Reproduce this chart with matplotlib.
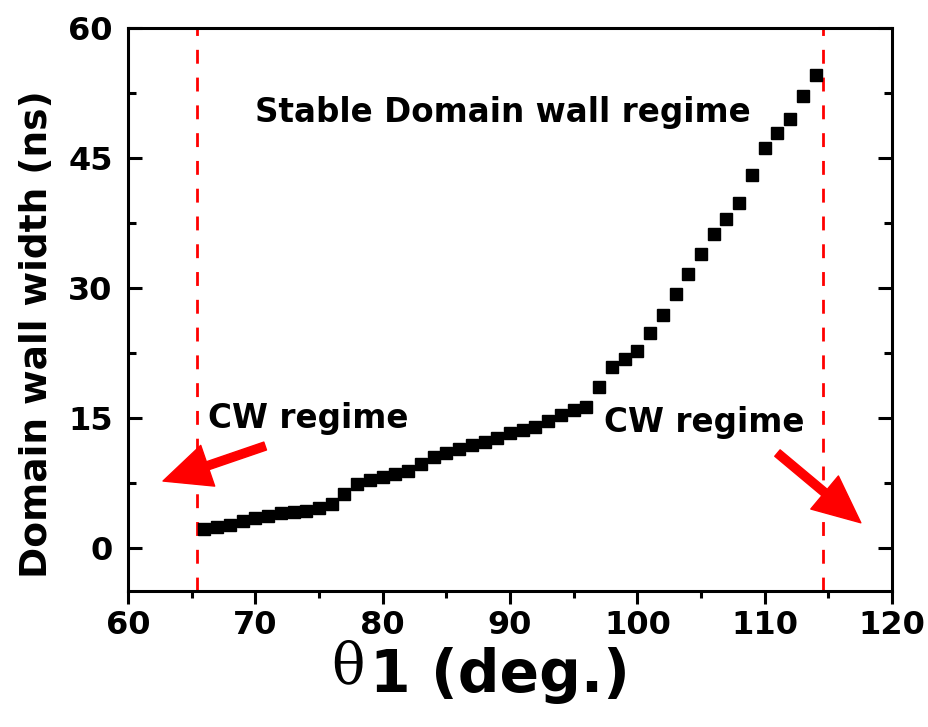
import numpy as np
import matplotlib
matplotlib.use("Agg")
from matplotlib import pyplot as plt
from matplotlib.ticker import MultipleLocator

# data
theta = [66, 67, 68, 69, 70, 71, 72, 73, 74, 75, 76, 77, 78, 79, 80, 81, 82,
         83, 84, 85, 86, 87, 88, 89, 90, 91, 92, 93, 94, 95, 96, 97, 98, 99,
         100, 101, 102, 103, 104, 105, 106, 107, 108, 109, 110, 111, 112, 113, 114]
width = [2.15, 2.42, 2.65, 3.07, 3.41, 3.68, 4.03, 4.14, 4.26, 4.64, 5.03, 6.18,
         7.40, 7.79, 8.17, 8.48, 8.86, 9.63, 10.43, 10.93, 11.39, 11.85, 12.23,
         12.69, 13.2, 13.54, 13.92, 14.65, 15.38, 15.85, 16.26, 18.53, 20.83,
         21.75, 22.67, 24.78, 26.89, 29.27, 31.65, 33.91, 36.17, 38.0, 39.8,
         43.0, 46.2, 47.9, 49.5, 52.1, 54.6]
limits = [65.4, 114.55]

plt.rcParams['font.family'] = ['DejaVu Sans']
plt.rcParams['font.weight'] = 'bold'

fig = plt.figure(figsize=(9.29, 7.27), dpi=100)
ax = fig.add_axes([0.1378, 0.187, 0.8224, 0.7745])

for xv in limits:
    ax.axvline(xv, color='#ff0000', lw=2.0, linestyle=(0, (5, 5)), zorder=1)

ax.plot(theta, width, 's', color='black', markersize=8, zorder=3)

# text labels
ax.text(70.0, 50.3, 'Stable Domain wall regime', fontsize=23.5, fontweight='bold',
        ha='left', va='center')
ax.text(66.3, 14.96, 'CW regime', fontsize=23.5, fontweight='bold', ha='left', va='center')
ax.text(97.4, 14.5, 'CW regime', fontsize=23.5, fontweight='bold', ha='left', va='center')

arrow = dict(arrowstyle='simple,head_length=3.4,head_width=3.1,tail_width=0.6',
             color='#ff0000', mutation_scale=10, shrinkA=0, shrinkB=0)
ax.annotate('', xy=(62.75, 7.7), xytext=(70.77, 11.74), arrowprops=arrow)
ax.annotate('', xy=(117.55, 2.88), xytext=(111.0, 10.93), arrowprops=arrow)

ax.set_xlim(60, 120)
ax.set_ylim(-5, 60)
ax.xaxis.set_major_locator(MultipleLocator(10))
ax.xaxis.set_minor_locator(MultipleLocator(5))
ax.yaxis.set_major_locator(MultipleLocator(15))
ax.yaxis.set_minor_locator(MultipleLocator(7.5))

for s in ax.spines.values():
    s.set_linewidth(2.2)

ax.tick_params(axis='x', which='both', direction='out', top=False, width=2.2, labelsize=23, pad=4)
ax.tick_params(axis='x', which='major', length=9.5)
ax.tick_params(axis='x', which='minor', length=5)
ax.tick_params(axis='y', which='both', direction='in', right=True, width=2.2, labelsize=23, pad=11)
ax.tick_params(axis='y', which='major', length=10)
ax.tick_params(axis='y', which='minor', length=6)

ax.set_xlabel('1 (deg.)', fontsize=42, fontweight='bold')
ax.xaxis.set_label_coords(0.487, -0.1)
fig.text(331 / 929, 1 - 667 / 727, 'θ', fontsize=40, fontweight='normal',
         family=['DejaVu Serif'], ha='left', va='center')
ax.set_ylabel('Domain wall width (ns)', fontsize=27, fontweight='bold')
ax.yaxis.set_label_coords(-0.096, 0.456)

fig.savefig('out.png', dpi=100)
